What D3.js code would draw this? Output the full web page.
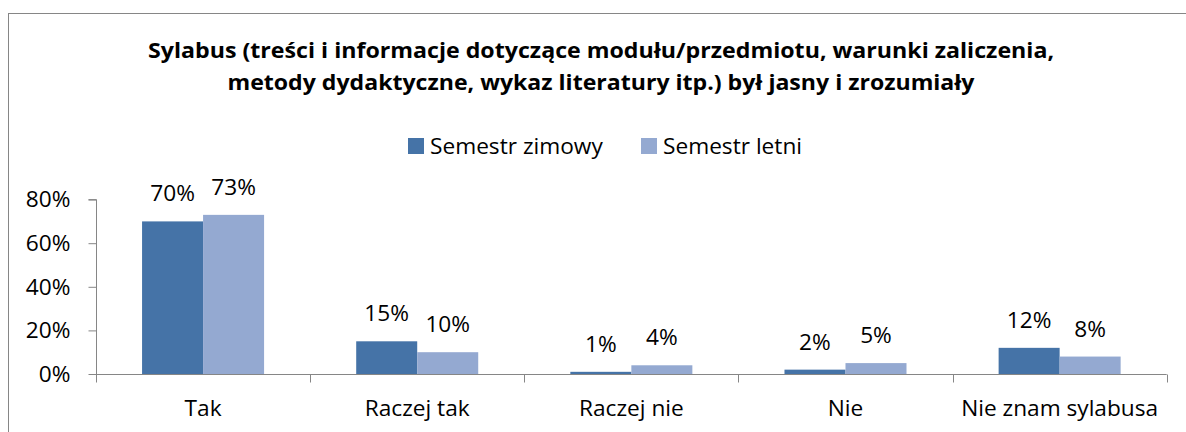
<!DOCTYPE html>
<html>
<head>
<meta charset="utf-8">
<script src="https://cdn.jsdelivr.net/npm/d3@7"></script>
<style>
  html, body { margin: 0; padding: 0; background: #fff; }
  svg { display: block; }
  text { font-family: "Open Sans", Lato, sans-serif; fill: #000; }
</style>
</head>
<body>
<svg id="chart" width="1186" height="432"></svg>
<script>
const titleLines = [
  "Sylabus (treści i informacje dotyczące modułu/przedmiotu, warunki zaliczenia,",
  "metody dydaktyczne, wykaz literatury itp.) był jasny i zrozumiały"
];
const categories = ["Tak", "Raczej tak", "Raczej nie", "Nie", "Nie znam sylabusa"];
const seriesNames = ["Semestr zimowy", "Semestr letni"];
const zimowy = [0.70, 0.15, 0.01, 0.02, 0.12];
const letni = [0.73, 0.10, 0.04, 0.05, 0.08];
const yTicks = [0, 0.2, 0.4, 0.6, 0.8];
const colors = ["#4573A7", "#94A9D1"];

const seriesValues = [zimowy, letni];
const rows = categories.map((c, i) => ({cat: c, vals: seriesNames.map((s, j) => ({series: s, value: seriesValues[j][i]}))}));

const svg = d3.select("#chart");
const axisColor = "#868686";
const FONT = "'Open Sans', Lato, sans-serif";
const bodySize = 21;
const titleSize = 21;

function measure(str, size, weight) {
  const t = svg.append("text").attr("font-size", size).attr("font-weight", weight || "normal").text(str);
  const w = t.node().getComputedTextLength();
  t.remove();
  return w;
}
// horizontal stretch factor so text widths match the reference
const sx = 197 / measure("Nie znam sylabusa", bodySize);
function stretch(sel, f) {
  sel.each(function () {
    const w = this.getComputedTextLength();
    d3.select(this).attr("textLength", w * f).attr("lengthAdjust", "spacingAndGlyphs");
  });
}

// outer border
svg.append("rect").attr("x", 8.5).attr("y", 13.5).attr("width", 1300).attr("height", 600)
  .attr("fill", "none").attr("stroke", axisColor).attr("stroke-width", 1);

// title
const titleWidths = [906, 747];
titleLines.forEach((t, i) => {
  svg.append("text").attr("text-anchor", "middle").attr("font-weight", "bold").attr("font-size", titleSize)
    .attr("x", 601).attr("y", 58 + i * 32).text(t)
    .attr("textLength", titleWidths[i]).attr("lengthAdjust", "spacingAndGlyphs");
});

// legend
const legendX = [408, 641];
seriesNames.forEach((s, i) => {
  svg.append("rect").attr("x", legendX[i]).attr("y", 138).attr("width", 16).attr("height", 16).attr("fill", colors[i]);
  const t = svg.append("text").attr("x", legendX[i] + 22).attr("y", 154).attr("font-size", bodySize).text(s);
  stretch(t, sx);
});

// scales
const x0 = d3.scaleBand().domain(categories).range([96, 1166.7]).paddingInner(0).paddingOuter(0);
const x1 = d3.scaleBand().domain(seriesNames).range([0, x0.bandwidth()]).paddingInner(0).paddingOuter(0.755);
const y = d3.scaleLinear().domain([0, 0.8]).range([374, 199.6]);
const color = d3.scaleOrdinal().domain(seriesNames).range(colors);

// bars
const g = svg.append("g");
const groups = g.selectAll("g.cat").data(rows).join("g").attr("class", "cat")
  .attr("transform", d => `translate(${x0(d.cat)},0)`);
groups.selectAll("rect").data(d => d.vals).join("rect")
  .attr("x", d => x1(d.series))
  .attr("y", d => y(d.value))
  .attr("width", x1.bandwidth())
  .attr("height", d => y(0) - y(d.value))
  .attr("fill", d => color(d.series));
const vlabels = groups.selectAll("text").data(d => d.vals).join("text")
  .attr("x", d => x1(d.series) + x1.bandwidth() / 2)
  .attr("y", d => y(d.value) - 20)
  .attr("text-anchor", "middle")
  .attr("font-size", bodySize)
  .text(d => d3.format(".0%")(d.value));
stretch(vlabels, sx);

// y axis
const yAxis = d3.axisLeft(y).tickValues(yTicks).tickSize(8).tickFormat(d3.format(".0%"));
const yg = svg.append("g").attr("transform", "translate(96.5,0)").call(yAxis);
yg.select(".domain").attr("stroke", axisColor).attr("d", `M-8,${y(0.8)}H0V${y(0)}`);
yg.selectAll(".tick line").attr("stroke", axisColor);
const ytexts = yg.selectAll(".tick text").attr("x", -26).attr("dy", "0.35em").attr("font-size", bodySize)
  .attr("font-family", FONT).attr("fill", "#000");
stretch(ytexts, sx);

// x axis
const xAxis = d3.axisBottom(x0).tickSize(0).tickPadding(0);
const xg = svg.append("g").attr("transform", `translate(0,${y(0) + 0.5})`).call(xAxis);
xg.select(".domain").attr("stroke", axisColor).attr("d", `M96,0H1166.7`);
const xtexts = xg.selectAll(".tick text").attr("y", 41).attr("dy", 0).attr("font-size", bodySize)
  .attr("font-family", FONT).attr("fill", "#000");
stretch(xtexts, sx);
// boundary tick marks
const bounds = categories.map(c => x0(c)).concat([x0.range()[1]]);
xg.selectAll("line.bound").data(bounds).join("line").attr("class", "bound")
  .attr("x1", d => Math.round(d) + 0.5).attr("x2", d => Math.round(d) + 0.5)
  .attr("y1", 0).attr("y2", 8).attr("stroke", axisColor);
</script>
</body>
</html>
